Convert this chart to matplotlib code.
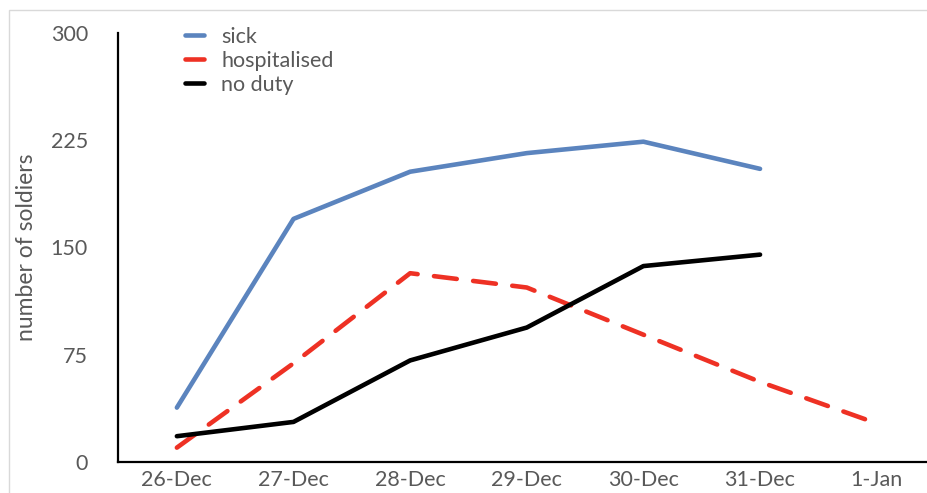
import matplotlib
matplotlib.use("Agg")
import matplotlib.pyplot as plt
from matplotlib.patches import Rectangle

plt.rcParams['font.family'] = ['Lato', 'DejaVu Sans']

# ── data ────────────────────────────────────────────
days = ['26-Dec', '27-Dec', '28-Dec', '29-Dec', '30-Dec', '31-Dec', '1-Jan']
sick = [38, 170, 203, 216, 224, 205]
hospitalised = [10, 69, 132, 122, 89, 56, 27]
no_duty = [18, 28, 71, 94, 137, 145]
y_ticks = [0, 75, 150, 225, 300]

GREY = '#595959'
FS = 15.5

fig = plt.figure(figsize=(9.28, 4.93), dpi=100)
ax = fig.add_axes([0.127, 0.063, 0.873, 0.870])

# light frame round the whole picture
fig.patches.append(Rectangle((0.010, -0.01), 1.0, 0.99, transform=fig.transFigure,
                             fill=False, ec='#d9d9d9', lw=1.0))

ax.plot(range(len(sick)), sick, color='#5b84be', lw=3.3,
        solid_capstyle='round', label='sick')
ax.plot(range(len(hospitalised)), hospitalised, color='#ee3124', lw=3.3,
        ls=(0, (5, 3.6)), dash_capstyle='round', label='hospitalised')
ax.plot(range(len(no_duty)), no_duty, color='black', lw=3.3,
        solid_capstyle='round', label='no duty')

ax.set_xlim(-0.506, 6.44)
ax.set_ylim(0, 300)
ax.set_xticks(range(len(days)))
ax.set_xticklabels(days)
ax.set_yticks(y_ticks)
ax.tick_params(length=0, labelsize=FS, colors=GREY, pad=6)
ax.tick_params(axis='y', pad=21.5)
for s in ('top', 'right'):
    ax.spines[s].set_visible(False)
for s in ('left', 'bottom'):
    ax.spines[s].set_linewidth(1.6)
    ax.spines[s].set_color('black')

ax.set_ylabel('number of soldiers', fontsize=16.5, color=GREY, labelpad=10)

ax.legend(loc='upper left', bbox_to_anchor=(0.178, 0.985), bbox_transform=fig.transFigure,
          frameon=False, fontsize=FS, handlelength=0.9, handletextpad=0.8,
          labelspacing=0.18, labelcolor=GREY)

fig.savefig('out.png', dpi=100)
